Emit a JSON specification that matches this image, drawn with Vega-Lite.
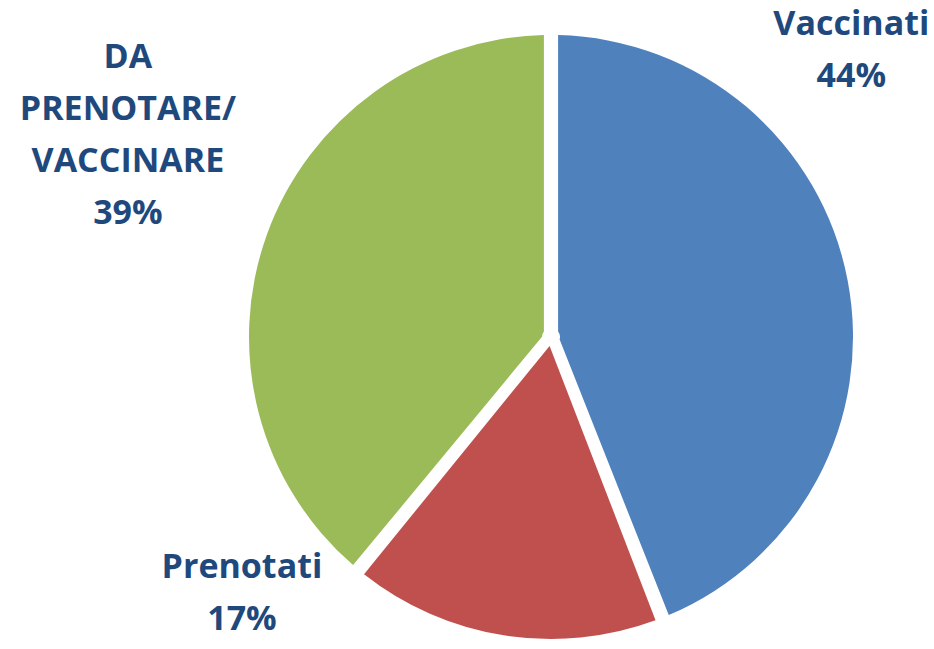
{
  "$schema": "https://vega.github.io/schema/vega-lite/v6.json",
  "autosize": "none",
  "width": 766,
  "height": 624,
  "padding": {"left": 168, "top": 25, "right": 0, "bottom": 0},
  "background": "white",
  "config": {"view": {"stroke": null}},
  "data": {
    "values": [
      {"category": "Vaccinati", "value": 44, "label": "Vaccinati\n44%"},
      {"category": "Prenotati", "value": 17, "label": "Prenotati\n17%"},
      {"category": "DA PRENOTARE/VACCINARE", "value": 39, "label": "DA\nPRENOTARE/\nVACCINARE\n39%"}
    ]
  },
  "layer": [
    {
      "mark": {"type": "arc", "outerRadius": 302, "innerRadius": 9, "padAngle": 0.047},
      "encoding": {
        "theta": {"field": "value", "type": "quantitative", "stack": true},
        "order": {"field": "category", "sort": "descending"},
        "color": {
          "field": "category",
          "type": "nominal",
          "scale": {"domain": ["Vaccinati", "Prenotati", "DA PRENOTARE/VACCINARE"], "range": ["#4F81BD", "#C0504D", "#9BBB59"]},
          "legend": null
        }
      }
    },
    {
      "mark": {"type": "text", "radius": 320, "dx": -14, "dy": -252, "lineBreak": "\n", "lineHeight": 52, "font": "Open Sans", "fontWeight": "bold", "fontSize": 34, "fill": "#1F497D", "align": "center", "baseline": "middle"},
      "encoding": {
        "theta": {"field": "value", "type": "quantitative", "stack": true},
        "order": {"field": "category", "sort": "descending"},
        "detail": {"field": "category", "type": "nominal"},
        "text": {"condition": {"test": "datum.category === 'Vaccinati'", "field": "label", "type": "nominal"}, "value": ""}
      }
    },
    {
      "mark": {"type": "text", "radius": 320, "dx": -259, "dy": -85, "lineBreak": "\n", "lineHeight": 52, "font": "Open Sans", "fontWeight": "bold", "fontSize": 34, "fill": "#1F497D", "align": "center", "baseline": "middle"},
      "encoding": {
        "theta": {"field": "value", "type": "quantitative", "stack": true},
        "order": {"field": "category", "sort": "descending"},
        "detail": {"field": "category", "type": "nominal"},
        "text": {"condition": {"test": "datum.category === 'Prenotati'", "field": "label", "type": "nominal"}, "value": ""}
      }
    },
    {
      "mark": {"type": "text", "radius": 320, "dx": -122, "dy": -171, "lineBreak": "\n", "lineHeight": 52, "font": "Open Sans", "fontWeight": "bold", "fontSize": 34, "fill": "#1F497D", "align": "center", "baseline": "middle"},
      "encoding": {
        "theta": {"field": "value", "type": "quantitative", "stack": true},
        "order": {"field": "category", "sort": "descending"},
        "detail": {"field": "category", "type": "nominal"},
        "text": {"condition": {"test": "datum.category === 'DA PRENOTARE/VACCINARE'", "field": "label", "type": "nominal"}, "value": ""}
      }
    }
  ]
}
